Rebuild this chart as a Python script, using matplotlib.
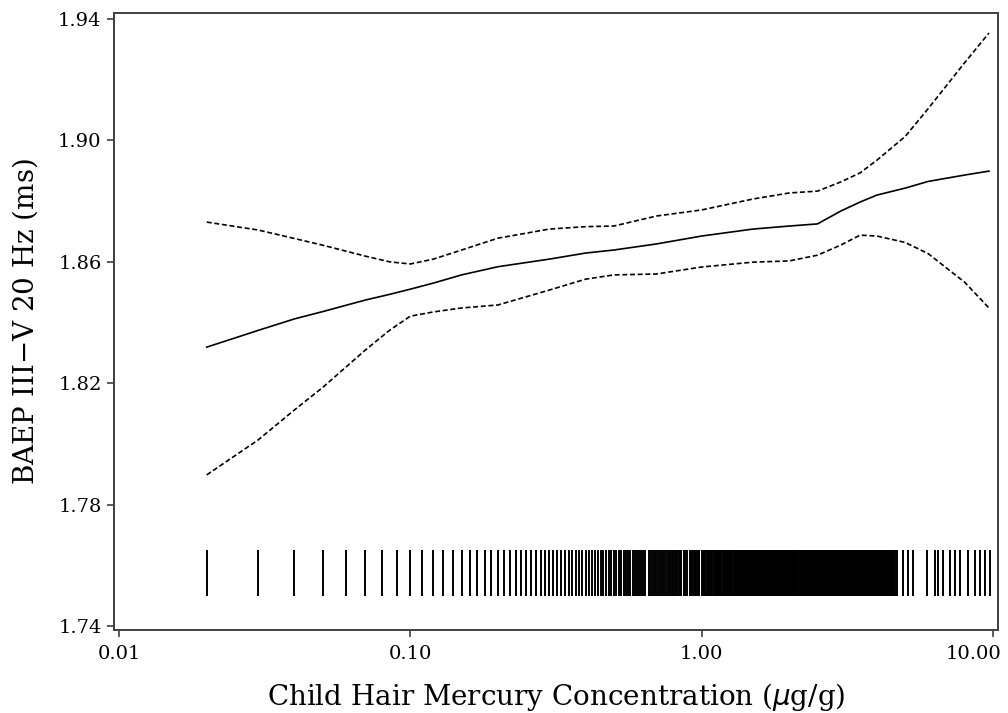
import matplotlib
matplotlib.use('Agg')
import matplotlib.pyplot as plt
import matplotlib.transforms as mtransforms
import numpy as np

# concentration grid (ug/g) and the fitted curve with its 95% band
conc = [0.02, 0.03, 0.04, 0.05, 0.07, 0.085, 0.10, 0.12, 0.15, 0.2, 0.3,
        0.4, 0.5, 0.7, 1.0, 1.5, 2.0, 2.5, 3.0, 3.5, 4.0, 5.0, 6.0, 8.0, 9.7]
fit = [1.8319, 1.8374, 1.8412, 1.8436, 1.8474, 1.8493, 1.8510, 1.8530,
       1.8557, 1.8584, 1.8609, 1.8629, 1.8639, 1.8659, 1.8685, 1.8708,
       1.8718, 1.8725, 1.8767, 1.8797, 1.8820, 1.8843, 1.8865, 1.8886,
       1.8899]
upper = [1.8731, 1.8705, 1.8677, 1.8655, 1.8619, 1.8600, 1.8593, 1.8609,
         1.8639, 1.8678, 1.8708, 1.8716, 1.8718, 1.8751, 1.8771, 1.8807,
         1.8827, 1.8833, 1.8863, 1.8893, 1.8935, 1.9013, 1.9105, 1.9256,
         1.9354]
lower = [1.7898, 1.8013, 1.8112, 1.8186, 1.8309, 1.8375, 1.8421, 1.8435,
         1.8448, 1.8458, 1.8507, 1.8543, 1.8557, 1.8560, 1.8583, 1.8599,
         1.8603, 1.8622, 1.8655, 1.8688, 1.8685, 1.8664, 1.8627, 1.8533,
         1.8448]

# observed hair mercury values (rug), recorded to 0.01 ug/g
rug_low = [0.02, 0.03, 0.04, 0.05, 0.06, 0.07, 0.08, 0.09, 0.10, 0.11, 0.12,
           0.13, 0.14, 0.15, 0.16, 0.17, 0.18, 0.19, 0.20, 0.21, 0.22, 0.23,
           0.24, 0.25, 0.26, 0.27, 0.28, 0.29, 0.30, 0.31, 0.32, 0.33, 0.34,
           0.35, 0.36, 0.37, 0.38, 0.39, 0.40, 0.41, 0.42, 0.43, 0.44, 0.45,
           0.46, 0.47, 0.48, 0.49, 0.50]
rug_dense_from = 0.51
rug_dense_to = 4.60
rug_missing = [0.65, 0.86, 0.90, 0.99, 1.28, 1.46, 2.14, 2.15, 2.51, 2.52]
rug_high = [4.69, 4.92, 5.12, 5.32, 5.94, 6.33, 6.50, 6.74, 7.12, 7.41,
            7.71, 8.21, 8.68, 9.03, 9.40, 9.77]

xticks = [0.01, 0.10, 1.00, 10.00]
yticks = [1.74, 1.78, 1.82, 1.86, 1.90, 1.94]

dense = np.round(np.arange(rug_dense_from, rug_dense_to + 0.005, 0.01), 2)
dense = [v for v in dense if v not in rug_missing]
rug = rug_low + dense + rug_high

plt.rcParams['font.family'] = ['DejaVu Serif']

fig = plt.figure(figsize=(10.08, 7.13), dpi=100)
ax = fig.add_axes([0.1131, 0.1164, 0.8769, 0.8654])

ax.plot(conc, fit, color='black', lw=1.2)
ax.plot(conc, upper, color='black', lw=1.2, linestyle=(0, (3, 1.6)))
ax.plot(conc, lower, color='black', lw=1.2, linestyle=(0, (3, 1.6)))
ax.vlines(rug, 1.75, 1.765, color='black', lw=1.4)

ax.set_xscale('log')
ax.set_xlim(0.00961, 10.41)
ax.set_ylim(1.7387, 1.942)
ax.set_xticks(xticks)
ax.set_xticklabels(['%.2f' % v for v in xticks])
ax.minorticks_off()
ax.set_yticks(yticks)
ax.set_yticklabels(['%.2f' % v for v in yticks])

ax.tick_params(direction='out', length=5, width=1.2, labelsize=14,
               color='#404040')
ax.tick_params(axis='x', pad=6)
ax.tick_params(axis='y', pad=4)
for s in ax.spines.values():
    s.set_color('#404040')
    s.set_linewidth(1.4)

# last x label is pushed left so it stays inside the picture
last = ax.get_xticklabels()[-1]
last.set_ha('right')
last.set_transform(last.get_transform() +
                   mtransforms.ScaledTranslation(0.09, 0, fig.dpi_scale_trans))

ax.set_xlabel('Child Hair Mercury Concentration ($\\mu$g/g)', fontsize=20)
ax.set_ylabel('BAEP III$-$V 20 Hz (ms)', fontsize=20)
ax.xaxis.set_label_coords(0.5, -0.082)
ax.yaxis.set_label_coords(-0.084, 0.5)

fig.savefig('out.png', dpi=100)
